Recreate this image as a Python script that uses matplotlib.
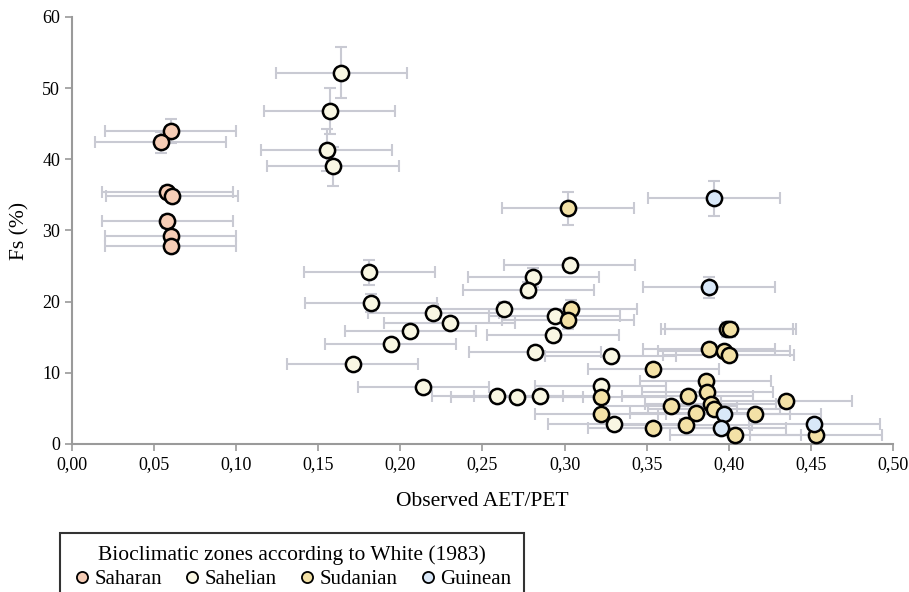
import matplotlib
matplotlib.use("Agg")
import matplotlib.pyplot as plt
from matplotlib.lines import Line2D
from matplotlib.ticker import FuncFormatter

plt.rcParams["font.family"] = ["Liberation Serif", "DejaVu Serif"]

# observed AET/PET, Fs (%), vertical error per bioclimatic zone
saharan_x = [0.060, 0.054, 0.058, 0.061, 0.058, 0.060, 0.060]
saharan_y = [44.0, 42.4, 35.4, 34.8, 31.3, 29.2, 27.8]
saharan_yerr = [1.7, 1.5, 0.8, 0.8, 0.9, 0.6, 0.5]

sahelian_x = [0.164, 0.157, 0.155, 0.159, 0.181, 0.182, 0.220, 0.230, 0.206,
              0.194, 0.171, 0.214, 0.259, 0.271, 0.285, 0.281, 0.278, 0.263,
              0.282, 0.303, 0.294, 0.293, 0.328, 0.322, 0.330]
sahelian_y = [52.2, 46.8, 41.3, 39.0, 24.1, 19.8, 18.4, 17.0, 15.9,
              14.0, 11.2, 8.0, 6.7, 6.6, 6.7, 23.4, 21.6, 19.0,
              12.9, 25.2, 18.0, 15.3, 12.3, 8.2, 2.8]
sahelian_yerr = [3.6, 3.2, 2.9, 2.7, 1.7, 1.3, 0.8, 0.6, 0.7,
                 0.7, 0.5, 0.5, 0.4, 0.4, 0.4, 1.4, 1.1, 0.9,
                 0.6, 0.8, 0.8, 0.7, 0.6, 0.5, 0.4]

sudanian_x = [0.302, 0.304, 0.302, 0.322, 0.322, 0.354, 0.354, 0.399, 0.401,
              0.388, 0.397, 0.400, 0.386, 0.387, 0.375, 0.365, 0.389, 0.391,
              0.380, 0.416, 0.435, 0.374, 0.404, 0.453]
sudanian_y = [33.1, 19.0, 17.4, 6.6, 4.2, 10.5, 2.3, 16.1, 16.1,
              13.4, 13.1, 12.5, 8.9, 7.3, 6.7, 5.3, 5.6, 4.9,
              4.4, 4.2, 6.1, 2.6, 1.2, 1.2]
sudanian_yerr = [2.3, 1.3, 1.2, 0.5, 0.5, 0.6, 0.4, 1.0, 1.0,
                 0.7, 0.7, 0.7, 0.5, 0.5, 0.5, 0.4, 0.4, 0.4,
                 0.4, 0.4, 0.4, 0.3, 0.3, 0.3]

guinean_x = [0.391, 0.388, 0.397, 0.395, 0.452]
guinean_y = [34.5, 22.0, 4.2, 2.2, 2.8]
guinean_yerr = [2.4, 1.5, 0.4, 0.3, 0.3]

x_err = 0.04

zones = [
    ("Saharan", saharan_x, saharan_y, saharan_yerr, "#f6cdb6"),
    ("Sahelian", sahelian_x, sahelian_y, sahelian_yerr, "#f9f7e3"),
    ("Sudanian", sudanian_x, sudanian_y, sudanian_yerr, "#f3e1a6"),
    ("Guinean", guinean_x, guinean_y, guinean_yerr, "#d9e8f8"),
]

fig = plt.figure(figsize=(9.09, 5.92), dpi=100)
ax = fig.add_axes([0.0792, 0.25, 0.9032, 0.7213])

# error bars first, markers on top
for name, xs, ys, yerr, color in zones:
    ax.errorbar(xs, ys, xerr=x_err, yerr=yerr, fmt="none", ecolor="#c9cad3",
                elinewidth=1.5, capsize=4, capthick=1.5, zorder=2)
for name, xs, ys, yerr, color in zones:
    ax.scatter(xs, ys, s=120, facecolor=color, edgecolor="black",
               linewidth=1.8, zorder=3)

ax.set_xlim(0, 0.5)
ax.set_ylim(0, 60)
ax.set_xticks([i * 0.05 for i in range(11)])
ax.set_yticks(range(0, 61, 10))
ax.xaxis.set_major_formatter(FuncFormatter(lambda v, p: f"{v:.2f}".replace(".", ",")))
for side in ("top", "right"):
    ax.spines[side].set_visible(False)
for side in ("left", "bottom"):
    ax.spines[side].set_color("#9a9a9a")
    ax.spines[side].set_linewidth(1.5)
ax.tick_params(colors="#9a9a9a", labelcolor="black", labelsize=13,
               direction="out", length=5, width=1.2)
ax.set_xlabel("Observed AET/PET", fontsize=15.5, labelpad=14)
ax.set_ylabel("Fs (%)", fontsize=15.5, labelpad=9)

handles = [Line2D([], [], ls="none", marker="o", markersize=8,
                  markerfacecolor=c, markeredgecolor="black", markeredgewidth=1.3)
           for _, _, _, _, c in zones]
leg = fig.legend(handles, [z[0] for z in zones], ncol=4, loc="upper left",
                 bbox_to_anchor=(60 / 909, 1 - 533 / 592),
                 title="Bioclimatic zones according to White (1983)",
                 title_fontsize=15.5, fontsize=15, frameon=True, fancybox=False,
                 handletextpad=0.15, columnspacing=1.0, handlelength=0.9,
                 borderpad=0.6, labelspacing=0.2, borderaxespad=0)
leg.get_frame().set_edgecolor("black")
leg.get_frame().set_linewidth(1.5)

fig.savefig("out.png", dpi=100)
